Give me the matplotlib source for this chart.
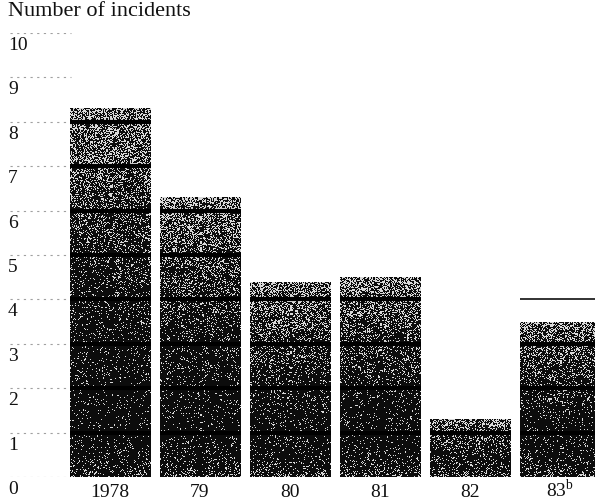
"""
Incidents per year - bar chart recreated from a scanned figure
"""

import numpy as np
import matplotlib
matplotlib.use("Agg")
import matplotlib.pyplot as plt
from matplotlib import transforms

# Data
years = ["1978", "79", "80", "81", "82", "83"]
incidents = [8.3, 6.3, 4.4, 4.5, 1.3, 3.5]
marker_1983 = 4.0          # thin line drawn above the last bar
y_ticks = [0, 1, 2, 3, 4, 5, 6, 7, 8, 9, 10]

plt.rcParams["font.family"] = ["Liberation Serif", "DejaVu Serif"]
plt.rcParams["mathtext.fontset"] = "custom"
plt.rcParams["mathtext.rm"] = "Liberation Serif"

W, H = 595, 501
fig = plt.figure(figsize=(W / 100, H / 100), dpi=100)
ax = fig.add_axes([10 / W, 24 / H, 585 / W, 444 / H])

x = np.arange(len(years))
width = 0.89
ax.set_xlim(-1.111, 5.389)
ax.set_ylim(0, 10)
ax.axis("off")

# faint dotted gridlines, only visible left of the first bar
for t in y_ticks:
    ax.axhline(t, xmin=0, xmax=0.105, color="#a0a0a0", lw=0.8,
               ls=(0, (2, 4)), zorder=0)

# scanned-looking stipple for the bars (styling only)
rng = np.random.default_rng(7)
px_per_unit = 44.4
bars = ax.bar(x, incidents, width=width, color="none", edgecolor="none", zorder=1)
for xi, val, patch in zip(x, incidents, bars):
    rows = int(round(val * px_per_unit))
    rel = np.linspace(1, 0, rows)[:, None] * np.ones((rows, 80))
    p_white = 0.06 + 0.42 * rel ** 2.5 + 0.18 * np.exp(-rel * rows / 12)
    tex = np.where(rng.random(rel.shape) < p_white, 0.85, 0.05)
    im = ax.imshow(tex, cmap="gray", vmin=0, vmax=1, aspect="auto",
                   extent=(xi - width / 2, xi + width / 2, 0, val),
                   interpolation="nearest", zorder=2)
    im.set_clip_path(patch)
    # dark unit lines across the bar
    for k in range(1, int(np.ceil(val))):
        ax.hlines(k, xi - width / 2, xi + width / 2 + 0.01,
                  color="black", lw=3.0, zorder=3)

ax.hlines(marker_1983, x[-1] - width / 2, x[-1] + width / 2,
          color="#222222", lw=1.3, zorder=3)

# y tick labels below their gridlines
off = transforms.offset_copy(
    transforms.blended_transform_factory(fig.transFigure, ax.transData),
    fig=fig, x=0, y=-4, units="dots")
for t in y_ticks:
    ax.text(8 / W, t, str(t), transform=off, ha="left", va="top",
            fontsize=14, color="#111111")

# x tick labels
xoff = transforms.offset_copy(ax.transData, fig=fig, x=0, y=-20, units="dots")
labels = years[:-1] + ["83$^{\\mathrm{b}}$"]
for xi, lab in zip(x, labels):
    ax.text(xi, 0, lab, transform=xoff, ha="center", va="baseline",
            fontsize=14, color="#111111")

fig.text(8 / W, 1 - 2 / H, "Number of incidents", ha="left", va="top",
         fontsize=16, color="#111111")

fig.savefig("out.png", dpi=100)
